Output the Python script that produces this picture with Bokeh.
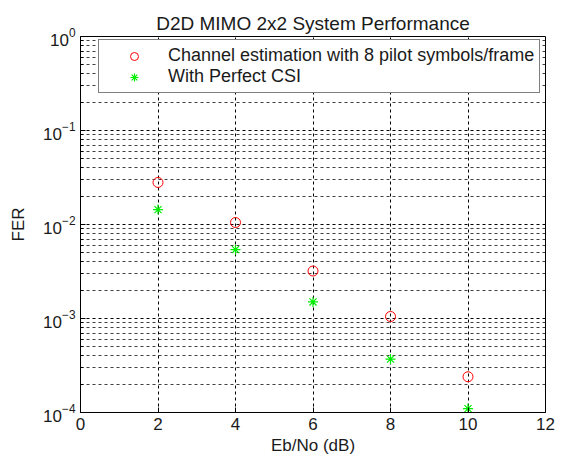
from bokeh.plotting import figure
from bokeh.models import Range1d, FixedTicker, Legend, LegendItem, ColumnDataSource
from bokeh.embed import file_html
from bokeh.resources import INLINE

ebno = [2, 4, 6, 8, 10]
fer_est = [0.028, 0.0105, 0.0032, 0.00105, 0.00024]
fer_csi = [0.0144, 0.0054, 0.0015, 0.00037, 0.00011]
x_ticks = [0, 2, 4, 6, 8, 10, 12]
y_ticks = [1e-4, 1e-3, 1e-2, 1e-1, 1e0]
y_minor = [m * d for d in [1e-4, 1e-3, 1e-2, 1e-1] for m in range(2, 10)]

FONT = "Liberation Sans"
TXT = "#1a1a1a"

p = figure(width=562, height=461, y_axis_type="log", output_backend="svg",
           toolbar_location=None, x_range=Range1d(0, 12), y_range=Range1d(1e-4, 1),
           min_border_left=80, min_border_right=17, min_border_top=36, min_border_bottom=49)
p.title.text = "D2D MIMO 2x2 System Performance"
p.title.align = "center"
p.title.text_font = FONT
p.title.text_font_style = "normal"
p.title.text_font_size = "19px"
p.title.text_color = TXT
p.title.standoff = 6

p.xaxis.ticker = FixedTicker(ticks=x_ticks)
p.yaxis.ticker = FixedTicker(ticks=y_ticks, minor_ticks=y_minor)
p.xaxis.axis_label = "Eb/No (dB)"
p.yaxis.axis_label = "FER"
for ax in (p.xaxis, p.yaxis):
    ax.axis_label_text_font = FONT
    ax.axis_label_text_font_style = "normal"
    ax.axis_label_text_font_size = "17px"
    ax.axis_label_text_color = TXT
    ax.major_label_text_font = FONT
    ax.major_label_text_font_size = "17px"
    ax.major_label_text_color = TXT
    ax.major_tick_in = 5
    ax.major_tick_out = 0
    ax.minor_tick_in = 3
    ax.minor_tick_out = 0
    ax.axis_line_color = "black"
    ax.major_tick_line_color = "black"
    ax.minor_tick_line_color = "black"
p.xaxis.minor_tick_line_color = None
p.xaxis.major_label_standoff = 5
p.xaxis.axis_label_standoff = 3
p.yaxis.major_label_standoff = 5
p.yaxis.axis_label_standoff = 12

p.outline_line_color = "black"
p.outline_line_alpha = 1
p.xgrid.grid_line_color = "black"
p.xgrid.grid_line_dash = "3 3"
p.ygrid.grid_line_color = "black"
p.ygrid.grid_line_dash = "3 3"
p.ygrid.minor_grid_line_color = "black"
p.ygrid.minor_grid_line_dash = "3 3"
p.ygrid.minor_grid_line_alpha = 0.75

src_est = ColumnDataSource(dict(x=ebno, y=fer_est))
src_csi = ColumnDataSource(dict(x=ebno, y=fer_csi))
r1 = p.scatter("x", "y", source=src_est, marker="circle", size=10, fill_color=None,
               line_color="#ff0000", line_width=1)
r2 = p.scatter("x", "y", source=src_csi, marker="asterisk", size=10,
               line_color="#00ee00", line_width=1.2)

legend = Legend(items=[LegendItem(label="Channel estimation with 8 pilot symbols/frame", renderers=[r1]),
                       LegendItem(label="With Perfect CSI", renderers=[r2])],
                location=(18, 319))
legend.label_text_font = FONT
legend.label_text_font_size = "18px"
legend.label_text_color = TXT
legend.border_line_color = "black"
legend.border_line_width = 1
legend.background_fill_alpha = 1
legend.glyph_width = 60
legend.glyph_height = 20
legend.label_height = 20
legend.label_standoff = 4
legend.padding = 5
legend.spacing = 0
legend.margin = 0
p.add_layout(legend)

open("out.html", "w").write(file_html(p, INLINE))
